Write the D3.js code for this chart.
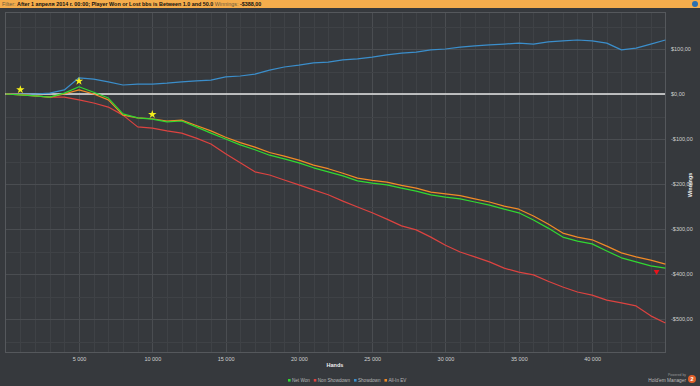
<!DOCTYPE html>
<html>
<head>
<meta charset="utf-8">
<script src="https://cdn.jsdelivr.net/npm/d3@7"></script>
<style>
  html, body { margin: 0; padding: 0; background: #36393d; }
  svg { display: block; font-family: "Liberation Sans", Arial, sans-serif; }
</style>
</head>
<body>
<div id="chart"></div>
<script>
// hands sampled every 1000
const hands = d3.range(0, 45001, 1000);

const netWon = [0, -2, -4, -7, 2, 16, 4, -9, -44, -53, -56, -62, -60, -73, -87, -100, -113, -124, -136, -144,
  -153, -164, -173, -182, -193, -198, -202, -209, -216, -224, -229, -233, -240, -247, -256, -264, -280, -298,
  -318, -327, -333, -349, -364, -373, -382, -387];
const nonShowdown = [0, -1, -4, -7, -7, -13, -20, -29, -47, -73, -76, -82, -87, -98, -111, -133, -153, -173,
  -180, -191, -202, -213, -224, -238, -251, -264, -278, -293, -302, -318, -336, -351, -362, -373, -387, -396,
  -402, -416, -429, -440, -447, -458, -464, -471, -493, -509];
const showdown = [0, 0, 0, 2, 9, 36, 33, 27, 20, 22, 22, 24, 27, 29, 31, 38, 40, 44, 53, 60, 64, 69, 71, 76,
  78, 82, 87, 91, 93, 98, 100, 104, 107, 109, 111, 113, 111, 116, 118, 120, 118, 113, 98, 102, 111, 120];
const allInEV = [0, -2, -4, -7, 0, 9, 0, -13, -47, -53, -55, -60, -58, -70, -82, -96, -108, -118, -130, -138,
  -147, -158, -166, -176, -187, -192, -196, -203, -209, -218, -222, -226, -233, -240, -249, -256, -271, -289,
  -309, -318, -324, -338, -353, -362, -369, -378];

const xTicks = [5000, 10000, 15000, 20000, 25000, 30000, 35000, 40000];
const yTicks = [100, 0, -100, -200, -300, -400, -500];
const starHands = [1000, 5000, 10000];
const starSeriesVals = [3, 22, -52];

const series = [
  { name: 'Net Won', values: netWon, color: '#31d831' },
  { name: 'Non Showdown', values: nonShowdown, color: '#dc4340' },
  { name: 'Showdown', values: showdown, color: '#3b8ecb' },
  { name: 'All-In EV', values: allInEV, color: '#f18a26' }
];

const W = 700, H = 386;
const plot = { left: 5, right: 665, top: 12, bottom: 352 };

const svg = d3.select('#chart').append('svg').attr('width', W).attr('height', H);
svg.append('rect').attr('width', W).attr('height', H).attr('fill', '#36393d');

// filter header
svg.append('rect').attr('width', W).attr('height', 8).attr('fill', '#f5ad4c');
const hdr = svg.append('text').attr('x', 2).attr('y', 6).attr('font-size', 5.4);
hdr.append('tspan').attr('fill', '#6b5a3c').text('Filter: ');
hdr.append('tspan').attr('fill', '#111').attr('font-weight', 'bold')
  .text('After 1 апреля 2014 г. 00:00; Player Won or Lost bbs is Between 1.0 and 50.0 ');
hdr.append('tspan').attr('fill', '#6b5a3c').text('Winnings: ');
hdr.append('tspan').attr('fill', '#111').attr('font-weight', 'bold').text('-$388,00');
svg.append('circle').attr('cx', 695).attr('cy', 4).attr('r', 3).attr('fill', '#2a6fb0');

const x = d3.scaleLinear().domain([0, 45000]).range([plot.left + 0.7, plot.right + 0.4]);
const y = d3.scaleLinear().domain([0, 100]).range([94, 49]);

const g = svg.append('g');

// grid
const minorX = d3.range(1000, 45000, 1000);
g.selectAll('line.vx').data(minorX).join('line')
  .attr('x1', d => Math.round(x(d)) + 0.5).attr('x2', d => Math.round(x(d)) + 0.5)
  .attr('y1', plot.top).attr('y2', plot.bottom)
  .attr('stroke', d => d % 5000 === 0 ? '#4a4d51' : '#3f4246').attr('stroke-width', 1);
const minorY = d3.range(-550, 181, 50);
g.selectAll('line.hy').data(minorY).join('line')
  .attr('x1', plot.left).attr('x2', plot.right)
  .attr('y1', d => Math.round(y(d)) + 0.5).attr('y2', d => Math.round(y(d)) + 0.5)
  .attr('stroke', d => d % 100 === 0 ? '#4a4d51' : '#3f4246').attr('stroke-width', 1);
g.append('rect').attr('x', plot.left + 0.5).attr('y', plot.top + 0.5)
  .attr('width', plot.right - plot.left).attr('height', plot.bottom - plot.top)
  .attr('fill', 'none').attr('stroke', '#55585c');

// zero line
g.append('line').attr('x1', plot.left).attr('x2', plot.right)
  .attr('y1', y(0)).attr('y2', y(0)).attr('stroke', '#e6e6e6').attr('stroke-width', 1.6);

// axes
const xAxis = d3.axisBottom(x).tickValues(xTicks).tickSize(0)
  .tickFormat(d => d3.format(',')(d).replace(',', ' '));
svg.append('g').attr('transform', `translate(0,${plot.bottom + 2})`).call(xAxis)
  .call(a => a.select('.domain').remove())
  .selectAll('text').attr('fill', '#d0d0d0').attr('font-size', 5.5).attr('font-family', '"Liberation Sans", Arial, sans-serif');

const yAxis = d3.axisRight(y).tickValues(yTicks).tickSize(0)
  .tickFormat(d => (d < 0 ? '-$' : '$') + Math.abs(d) + ',00');
svg.append('g').attr('transform', `translate(${plot.right + 3},0)`).call(yAxis)
  .call(a => a.select('.domain').remove())
  .selectAll('text').attr('fill', '#d0d0d0').attr('font-size', 5.5).attr('font-family', '"Liberation Sans", Arial, sans-serif');

svg.append('text').attr('x', 335).attr('y', 367).attr('text-anchor', 'middle')
  .attr('fill', '#eee').attr('font-size', 5.5).attr('font-weight', 'bold').text('Hands');
svg.append('text').attr('transform', 'translate(692,185) rotate(-90)').attr('text-anchor', 'middle')
  .attr('fill', '#eee').attr('font-size', 5.5).attr('font-weight', 'bold').text('Winnings');

// lines
const line = d3.line().x((d, i) => x(hands[i])).y(d => y(d));
const drawOrder = [2, 1, 3, 0];
drawOrder.forEach(i => {
  g.append('path').datum(series[i].values).attr('d', line)
    .attr('fill', 'none').attr('stroke', series[i].color).attr('stroke-width', 1.2)
    .attr('stroke-linejoin', 'round');
});

// all-in markers
const star = d3.symbol().type(d3.symbolStar).size(22);
g.selectAll('path.star').data(starHands).join('path')
  .attr('d', star)
  .attr('transform', (d, i) => `translate(${x(d)},${y(starSeriesVals[i]) - 3})`)
  .attr('fill', '#f4f01c');
g.append('path').attr('d', d3.symbol().type(d3.symbolTriangle).size(14))
  .attr('transform', `translate(${x(44400)},${y(-395)}) rotate(180)`).attr('fill', '#e8141c');

// legend
const legend = svg.append('g').attr('transform', 'translate(288,382)');
let lx = 0;
series.forEach(s => {
  const item = legend.append('g').attr('transform', `translate(${lx},0)`);
  item.append('rect').attr('x', 0).attr('y', -3).attr('width', 2.6).attr('height', 2.6).attr('fill', s.color);
  const t = item.append('text').attr('x', 4).attr('y', 0).attr('fill', '#b8b8b8').attr('font-size', 4.6).text(s.name);
  lx += t.node().getComputedTextLength() + 8;
});

// powered by
svg.append('text').attr('x', 686).attr('y', 376).attr('text-anchor', 'end')
  .attr('fill', '#999').attr('font-size', 3.4).text('Powered by');
svg.append('text').attr('x', 686).attr('y', 382).attr('text-anchor', 'end')
  .attr('fill', '#bbb').attr('font-size', 4.8).text("Hold'em Manager");
svg.append('circle').attr('cx', 692).attr('cy', 379).attr('r', 4).attr('fill', '#e2602a');
svg.append('text').attr('x', 692).attr('y', 381.2).attr('text-anchor', 'middle')
  .attr('fill', '#fff').attr('font-size', 5.5).attr('font-weight', 'bold').text('2');
</script>
</body>
</html>
